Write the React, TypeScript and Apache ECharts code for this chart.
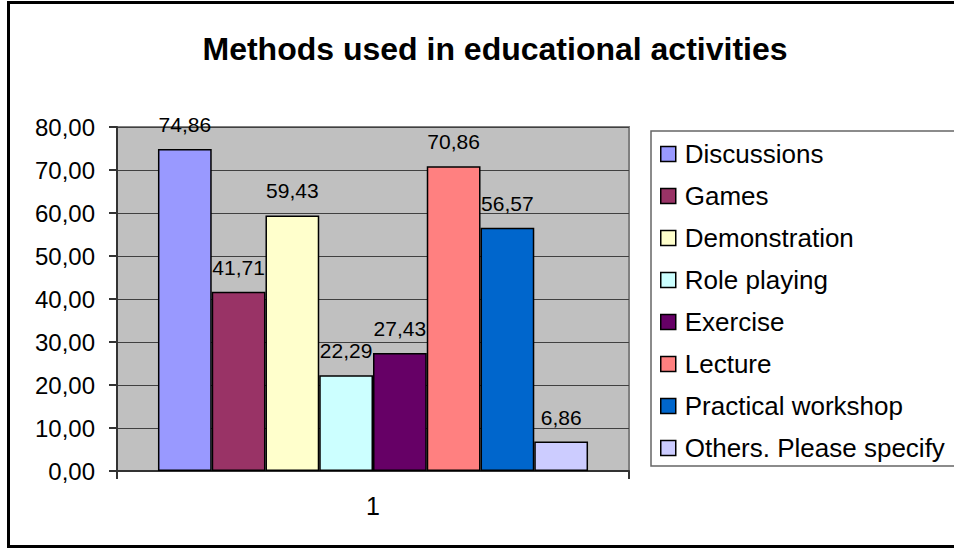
import React, { useEffect, useRef } from "react";
import * as echarts from "echarts";

const categories = ["1"];
const seriesNames = [
  "Discussions",
  "Games",
  "Demonstration",
  "Role playing",
  "Exercise",
  "Lecture",
  "Practical workshop",
  "Others. Please specify",
];
const seriesValues = [74.86, 41.71, 59.43, 22.29, 27.43, 70.86, 56.57, 6.86];
const seriesColors = [
  "#9999FF",
  "#993366",
  "#FFFFCC",
  "#CCFFFF",
  "#660066",
  "#FF8080",
  "#0066CC",
  "#CCCCFF",
];
const yMin = 0;
const yMax = 80;
const yInterval = 10;
const titleText = "Methods used in educational activities";

const FONT = "'Liberation Sans', Arial, sans-serif";
const fmt = (v: number) => v.toFixed(2).replace(".", ",");

export default function App() {
  const ref = useRef<HTMLDivElement>(null);
  useEffect(() => {
    if (!ref.current) return;
    const chart = echarts.init(ref.current, undefined, { renderer: "svg" });
    chart.setOption({
      animation: false,
      backgroundColor: "#ffffff",
      textStyle: { fontFamily: FONT },
      title: {
        text: titleText,
        left: 490,
        top: 26,
        textAlign: "center",
        textStyle: {
          fontFamily: FONT,
          fontSize: 32,
          fontWeight: "bold",
          color: "#000",
          lineHeight: 36,
        },
      },
      graphic: [
        {
          type: "rect",
          z: -10,
          shape: { x: 8.5, y: 2.5, width: 1000, height: 544 },
          style: { fill: "none", stroke: "#000", lineWidth: 3 },
        },
        {
          type: "rect",
          z: -10,
          shape: { x: 651, y: 131, width: 320, height: 335 },
          style: { fill: "#fff", stroke: "#666", lineWidth: 1.5 },
        },
      ],
      legend: {
        orient: "vertical",
        left: 660,
        top: 140,
        padding: 0,
        itemWidth: 15,
        itemHeight: 15,
        itemGap: 14,
        icon: "rect",
        itemStyle: { borderColor: "#000", borderWidth: 1.5 },
        textStyle: {
          fontFamily: FONT,
          fontSize: 26,
          color: "#000",
          lineHeight: 28,
          padding: [0, 0, 0, 4],
        },
        data: seriesNames,
      },
      grid: {
        left: 117,
        top: 127,
        width: 512,
        height: 344,
        show: true,
        backgroundColor: "#C0C0C0",
        borderColor: "#808080",
        borderWidth: 2,
      },
      xAxis: {
        type: "category",
        data: categories,
        boundaryGap: true,
        axisLine: { show: true, lineStyle: { color: "#333", width: 2 } },
        axisTick: { show: true, length: 8, lineStyle: { color: "#333", width: 2 } },
        axisLabel: { fontFamily: FONT, fontSize: 25, color: "#000", margin: 22 },
        splitLine: { show: false },
      },
      yAxis: {
        type: "value",
        min: yMin,
        max: yMax,
        interval: yInterval,
        axisLine: { show: true, lineStyle: { color: "#333", width: 2 } },
        axisTick: { show: true, length: 8, lineStyle: { color: "#333", width: 2 } },
        axisLabel: {
          fontFamily: FONT,
          fontSize: 24,
          color: "#000",
          margin: 22,
          formatter: (v: number) => fmt(v),
        },
        splitLine: { show: true, lineStyle: { color: "#404040", width: 1 } },
      },
      series: seriesNames.map((name, i) => ({
        name,
        type: "bar",
        data: [seriesValues[i]],
        barGap: "0%",
        barCategoryGap: "16%",
        itemStyle: { color: seriesColors[i], borderColor: "#000", borderWidth: 1.5 },
        label: {
          show: true,
          position: "top",
          distance: 14,
          fontFamily: FONT,
          fontSize: 21,
          color: "#000",
          formatter: (p: any) => fmt(p.value),
        },
      })),
    });
    return () => chart.dispose();
  }, []);
  return (
    <div
      ref={ref}
      style={{ position: "fixed", left: 0, top: 0, width: 954, height: 550 }}
    />
  );
}
